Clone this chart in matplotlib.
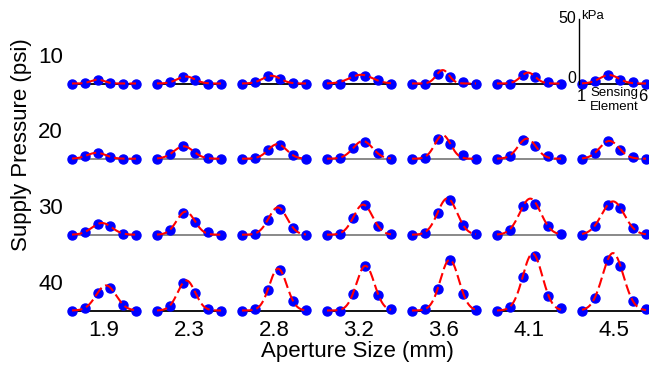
import numpy as np
import matplotlib.pyplot as plt

plt.rcParams['font.family'] = ['Liberation Sans', 'DejaVu Sans']

apertures = ['1.9', '2.3', '2.8', '3.2', '3.6', '4.1', '4.5']
pressures = ['10', '20', '30', '40']
sensors = np.arange(1, 7)

# kPa readings per sensing element, rows = supply pressure, cols = aperture
p10 = [[0, 0.5, 3, 0.5, 0, 0],
       [0, 1, 5, 3, 0, 0],
       [0, 1, 5.5, 3.5, 0.5, 0],
       [0, 0, 6, 5.5, 3, 0],
       [0, 0, 7.5, 5, 1, 0],
       [0, 0, 6.5, 5, 1, 0],
       [0, 2, 6.5, 3, 1, 0]]
p20 = [[0, 2, 4.5, 1.5, 0, 0],
       [0, 3.5, 9.5, 4.5, 0.3, 0],
       [0, 0.3, 6.5, 10.5, 2.5, 0],
       [0, 0.3, 8, 13, 4, 0],
       [0, 0.5, 15, 11, 2.5, 0],
       [0, 2, 14, 9.5, 2, 0],
       [0, 4.5, 13.5, 7, 1.5, 0]]
p30 = [[0, 2.3, 8, 6.5, 0.5, 0],
       [0, 3.3, 17, 9.5, 2, 0],
       [0, 0.5, 11.5, 20, 5.5, 0],
       [0, 0.3, 12.5, 22.5, 6.5, 0.5],
       [0, 1.3, 17, 26.5, 7.5, 0.5],
       [0, 3.3, 22, 24, 7, 0.3],
       [0, 7, 23, 20.5, 5, 0.5]]
p40 = [[0, 2, 13.5, 17.5, 4.5, 0],
       [0, 3.5, 21, 13.5, 1.5, 0],
       [0, 1.3, 15.5, 31, 7.5, 0.5],
       [0, 0, 12.5, 34.5, 12, 1.5],
       [0, 1.3, 16.5, 39, 13, 0.5],
       [0, 3, 26, 42, 11.5, 2],
       [0, 10, 39, 34, 7, 1.3]]
readings = [p10, p20, p30, p40]
base_colors = ['black', '#808080', '#808080', 'black']


def gauss_fit(x, y):
    y = np.asarray(y, float)
    best = None
    for mu in np.arange(1, 6.001, 0.02):
        for s in np.arange(0.3, 2.5, 0.02):
            g = np.exp(-(x - mu) ** 2 / (2 * s * s))
            a = (g @ y) / (g @ g)
            err = np.sum((a * g - y) ** 2)
            if best is None or err < best[0]:
                best = (err, a, mu, s)
    return best[1:]


W, H = 649, 368
fig = plt.figure(figsize=(W / 100, H / 100), dpi=100)

ux = 12.8   # px per sensor step
uy = 1.3    # px per kPa
x0s = [72 + 85 * i for i in range(7)]
bases = [83.5, 158.7, 234.7, 310.5]
xlo, xhi = 0.5, 6.5
ylo, yhi = -4, 52

xf = np.linspace(1, 6, 200)
axes = {}
for r in range(4):
    for c in range(7):
        left = x0s[c] - (1 - xlo) * ux
        bottom = H - bases[r] - (0 - ylo) * uy
        ax = fig.add_axes([left / W, bottom / H, (xhi - xlo) * ux / W, (yhi - ylo) * uy / H])
        ax.set_xlim(xlo, xhi)
        ax.set_ylim(ylo, yhi)
        ax.axis('off')
        y = readings[r][c]
        ax.plot([1, 6], [0, 0], color=base_colors[r], lw=1.3, zorder=1, clip_on=False)
        ax.plot(sensors, y, 'o', color='#0000ff', ms=6.5, mec='#0000ff', zorder=2, clip_on=False)
        a, mu, s = gauss_fit(sensors, y)
        ax.plot(xf, a * np.exp(-(xf - mu) ** 2 / (2 * s * s)), color='red', lw=1.5,
                dashes=(5, 2), zorder=3, clip_on=False)
        axes[(r, c)] = ax

# scale inset on the top-right cell
ax = axes[(0, 6)]
ax.plot([0.77, 0.77], [0, 50], color='black', lw=1, clip_on=False)
ax.text(0.55, 50, '50', ha='right', va='center', fontsize=11.5, clip_on=False)
ax.text(0.55, 3.5, '0', ha='right', va='center', fontsize=11.5, clip_on=False)
ax.text(0.95, 52, 'kPa', ha='left', va='center', fontsize=9.5, clip_on=False)
ax.text(0.95, -10, '1', ha='center', va='center', fontsize=12, clip_on=False)
ax.text(5.78, -10, '6', ha='center', va='center', fontsize=12, clip_on=False)
ax.text(3.5, -7.5, 'Sensing', ha='center', va='center', fontsize=9.5, clip_on=False)
ax.text(3.5, -18.3, 'Element', ha='center', va='center', fontsize=9.5, clip_on=False)

for r, lab in enumerate(pressures):
    fig.text(63 / W, 1 - (bases[r] - 26) / H, lab, ha='right', va='center', fontsize=16)
for c, lab in enumerate(apertures):
    fig.text((x0s[c] + 2.5 * ux) / W, 1 - 330 / H, lab, ha='center', va='center', fontsize=16)

fig.text(22 / W, 1 - 145 / H, 'Supply Pressure (psi)', rotation=90, ha='center', va='center', fontsize=16)
fig.text(357 / W, 1 - 352 / H, 'Aperture Size (mm)', ha='center', va='center', fontsize=16)

fig.savefig('out.png', dpi=100)
